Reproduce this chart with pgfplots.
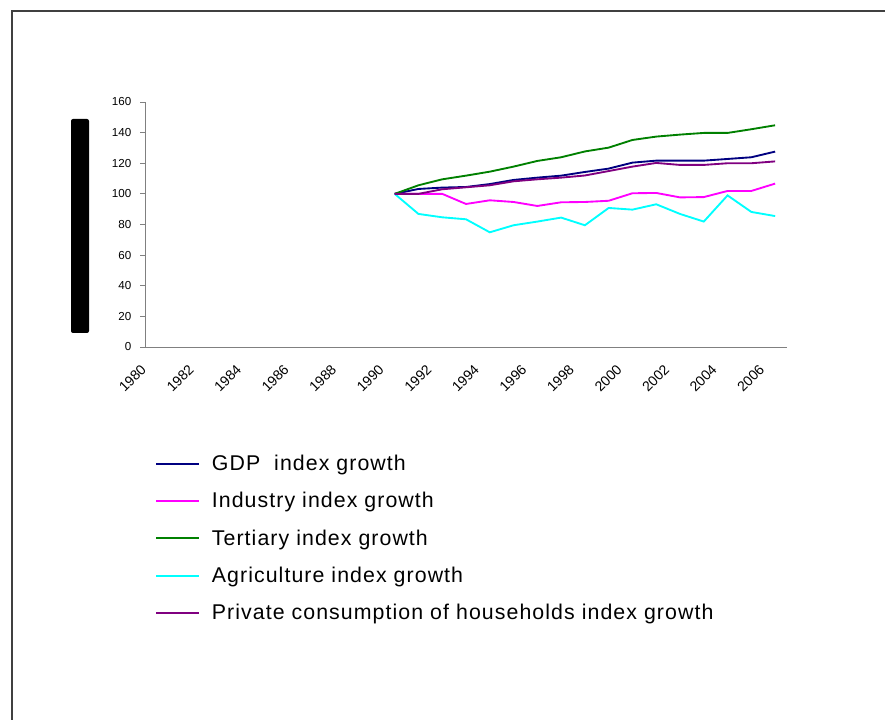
\documentclass[border=0pt]{standalone}
\usepackage{fontspec}
\setmainfont{Liberation Sans}
\newfontfamily\legfont[LetterSpace=5]{Liberation Sans}
\usepackage{pgfplots}
\usepackage{pgfplotstable}
\pgfplotsset{compat=1.18}
\definecolor{cgdp}{HTML}{000080}
\definecolor{cind}{HTML}{FF00FF}
\definecolor{cter}{HTML}{008000}
\definecolor{cagr}{HTML}{00FFFF}
\definecolor{chh}{HTML}{800080}
\definecolor{axgray}{HTML}{808080}
\pgfplotstableread{
x  gdp   ind   ter   agr   hh
10 100   100   100   100   100
11 103.2 100   105.6 86.9  100
12 104.1 100   109.5 84.7  103.0
13 104.5 93.4  111.9 83.4  104.3
14 106.4 95.8  114.5 74.9  105.6
15 109.1 94.7  117.8 79.5  108.2
16 110.6 92.1  121.5 81.9  109.5
17 111.9 94.5  123.9 84.5  110.6
18 114.3 94.7  127.7 79.5  112.0
19 116.5 95.5  130.2 90.8  114.9
20 120.4 100.4 135.2 89.7  117.8
21 121.7 100.6 137.4 93.2  120.2
22 121.7 97.7  138.7 86.9  118.9
23 121.7 97.9  139.8 81.9  118.9
24 122.8 101.9 139.8 99.0  120.0
25 123.9 101.9 142.2 88.2  120.0
26 127.6 106.7 144.8 85.5  121.2
}\datatable
\begin{document}
\begin{tikzpicture}[x=0.75pt,y=0.75pt]
\useasboundingbox (0,0) rectangle (885,720);
\begin{scope}
\clip (0,0) rectangle (885,720);
\draw[black!75, line width=1.1pt] (12,709) rectangle (910,-30);
\end{scope}
\fill[black, rounded corners=1.5pt] (71,601) rectangle (89,387);
\begin{axis}[
  at={(108.75pt,279.75pt)}, anchor=south west,
  scale only axis, width=481.5pt, height=183.75pt,
  xmin=-0.5, xmax=26.5, ymin=0, ymax=160,
  axis lines*=left, axis line style={axgray, line width=0.6pt},
  tick align=outside, tick pos=left,
  every tick/.style={axgray, line width=0.6pt},
  ytick={0,20,...,160},
  major tick length=3.75pt,
  xtick={0,2,...,26},
  xticklabels={1980,1982,1984,1986,1988,1990,1992,1994,1996,1998,2000,2002,2004,2006},
  x tick style={draw=none},
  minor xtick={-0.5,0.5,...,26.5},
  minor tick length=3pt,
  tick label style={font=\fontsize{8.7}{10}\selectfont, text=black},
  /pgf/number format/assume math mode=true,
  xticklabel style={xshift=-7.5pt, yshift=-9pt, rotate=45, anchor=east, font=\fontsize{10.5}{12}\selectfont},
  yticklabel style={xshift=-3pt},
  legend cell align=left,
  legend style={at={(0.0156,-0.43)}, anchor=north west, draw=none, fill=none,
    inner sep=0pt, font=\fontsize{16}{19}\legfont, row sep=10.8pt},
  legend image code/.code={\draw[#1, line width=1.5pt] (0pt,0pt) -- (32pt,0pt); \path (39pt,0pt);},
  every axis plot/.append style={line width=1.4pt},
]
\addplot[color=cgdp] table[x=x,y=gdp] {\datatable};
\addlegendentry{GDP\ \ index growth}
\addplot[color=cind] table[x=x,y=ind] {\datatable};
\addlegendentry{Industry index growth}
\addplot[color=cter] table[x=x,y=ter] {\datatable};
\addlegendentry{Tertiary index growth}
\addplot[color=cagr] table[x=x,y=agr] {\datatable};
\addlegendentry{Agriculture index growth}
\addplot[color=chh] table[x=x,y=hh] {\datatable};
\addlegendentry{Private consumption of households index growth}
\end{axis}
\end{tikzpicture}
\end{document}
